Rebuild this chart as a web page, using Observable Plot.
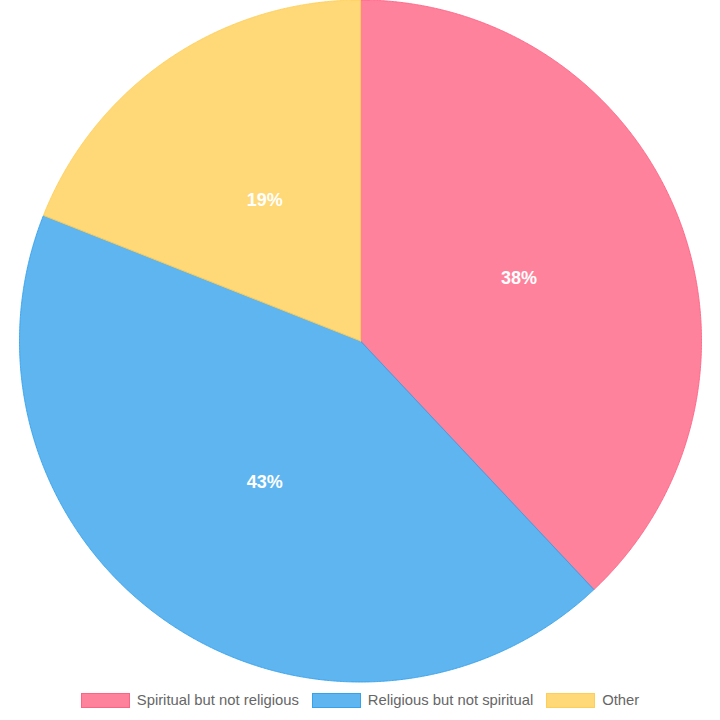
<!DOCTYPE html>
<html>
<head>
<meta charset="utf-8">
<script src="https://cdn.jsdelivr.net/npm/d3@7"></script>
<script src="https://cdn.jsdelivr.net/npm/@observablehq/plot@0.6"></script>
<style>
  body { margin: 0; background: #fff; font-family: "Liberation Sans", Arial, sans-serif; }
  #chart svg { display: block; }
  .legend { display: flex; justify-content: center; align-items: center; height: 20px; margin-top: 0; }
  .item { display: flex; align-items: center; margin: 0 6.5px; }
  .box { width: 47px; height: 13px; margin-right: 7px; border-width: 1px; border-style: solid; }
  .lbl { font-size: 14.8px; color: #666; }
</style>
</head>
<body>
<div id="chart"></div>
<div class="legend" id="legend"></div>
<script>
const categories = ["Spiritual but not religious", "Religious but not spiritual", "Other"];
const values = [38, 43, 19];
const colors = ["rgb(255,99,132)", "rgb(54,162,235)", "rgb(255,206,86)"];

const W = 720, H = 690, R = 341, topY = 340.5;
const total = d3.sum(values);
const pie = d3.pie().sort(null).value(d => d.value)(categories.map((c, i) => ({category: c, value: values[i]})));

const pts = [];
for (const a of pie) {
  const cat = a.data.category;
  pts.push({category: cat, x: 0, y: 0});
  const n = Math.max(2, Math.ceil((a.endAngle - a.startAngle) / (Math.PI / 720)));
  for (let k = 0; k <= n; k++) {
    const t = a.startAngle + (a.endAngle - a.startAngle) * k / n;
    pts.push({category: cat, x: R * Math.sin(t), y: R * Math.cos(t)});
  }
  pts.push({category: cat, x: 0, y: 0});
}
const labels = pie.map(a => {
  const m = (a.startAngle + a.endAngle) / 2;
  return {x: (R / 2) * Math.sin(m), y: (R / 2) * Math.cos(m), text: Math.round(a.data.value / total * 100) + "%"};
});

const plot = Plot.plot({
  width: W, height: H,
  margin: 0,
  x: {domain: [-360, 360], axis: null},
  y: {domain: [-(H - topY), topY], axis: null},
  color: {domain: categories, range: colors},
  marks: [
    Plot.line(pts, {x: "x", y: "y", z: "category", fill: "category", fillOpacity: 0.8, stroke: "category", strokeOpacity: 0.9, strokeWidth: 1, curve: "linear-closed"}),
    Plot.text(labels, {x: "x", y: "y", text: "text", fill: "white", fontWeight: "bold", fontSize: 18, fontFamily: "Liberation Sans, Arial, sans-serif"})
  ]
});
document.getElementById("chart").appendChild(plot);

const leg = document.getElementById("legend");
categories.forEach((c, i) => {
  const it = document.createElement("div"); it.className = "item";
  const b = document.createElement("span"); b.className = "box";
  b.style.background = colors[i].replace("rgb", "rgba").replace(")", ",0.8)");
  b.style.borderColor = colors[i];
  const l = document.createElement("span"); l.className = "lbl"; l.textContent = c;
  it.appendChild(b); it.appendChild(l); leg.appendChild(it);
});
</script>
</body>
</html>
